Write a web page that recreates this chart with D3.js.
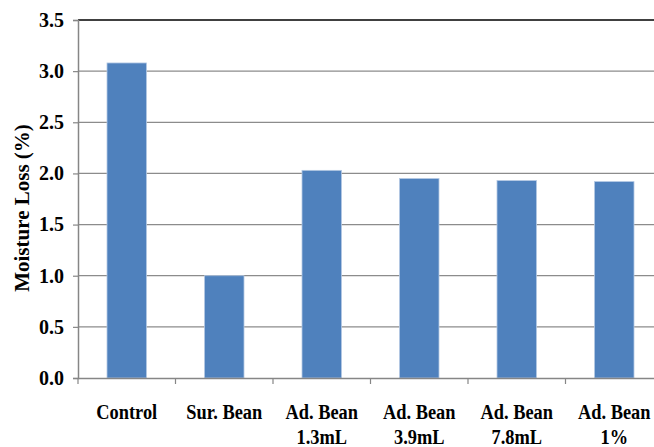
<!DOCTYPE html>
<html>
<head>
<meta charset="utf-8">
<script src="https://cdn.jsdelivr.net/npm/d3@7"></script>
<style>
  html, body { margin: 0; padding: 0; background: #fff; }
  svg { display: block; }
  text { font-family: "Liberation Serif", "Times New Roman", serif; font-weight: bold; fill: #000; }
</style>
</head>
<body>
<svg id="chart" width="654" height="447"></svg>
<script>
const categories = ["Control", "Sur. Bean", "Ad. Bean|1.3mL", "Ad. Bean|3.9mL", "Ad. Bean|7.8mL", "Ad. Bean|1%"];
const moistureLoss = [3.08, 1.0, 2.03, 1.95, 1.93, 1.92];
const yTicks = [0, 0.5, 1.0, 1.5, 2.0, 2.5, 3.0, 3.5];
const yTitle = "Moisture Loss (%)";

const svg = d3.select("#chart");
const margin = { left: 78, top: 20, bottom: 378 };
const plotRight = 663;

const x = d3.scaleBand().domain(categories).range([margin.left, plotRight]).paddingInner(0.595).paddingOuter(0.2975);
const xb = d3.scaleBand().domain(categories).range([margin.left, plotRight]).padding(0);
const y = d3.scaleLinear().domain([0, 3.5]).range([margin.bottom, margin.top]);

// gridlines
svg.append("g").selectAll("line").data(yTicks.filter(t => t > 0 && t < 3.5)).join("line")
  .attr("x1", margin.left).attr("x2", 654)
  .attr("y1", d => y(d)).attr("y2", d => y(d))
  .attr("stroke", "#8c8c8c").attr("stroke-width", 1.2);

// top line
svg.append("line").attr("x1", margin.left).attr("x2", 654)
  .attr("y1", y(3.5)).attr("y2", y(3.5)).attr("stroke", "#000").attr("stroke-width", 1.6);

// bars
svg.append("g").selectAll("rect").data(categories).join("rect")
  .attr("x", d => x(d)).attr("width", x.bandwidth())
  .attr("y", (d, i) => y(moistureLoss[i]))
  .attr("height", (d, i) => y(0) - y(moistureLoss[i]))
  .attr("fill", "#4f81bd").attr("stroke", "#b3c8e3").attr("stroke-width", 0.8);

// y axis
const yAxis = d3.axisLeft(y).tickValues(yTicks).tickFormat(d3.format(".1f")).tickSize(5).tickPadding(9);
const yg = svg.append("g").attr("transform", `translate(${margin.left},0)`).call(yAxis);
yg.select(".domain").attr("stroke", "#868686").attr("stroke-width", 1.5);
yg.selectAll(".tick line").attr("stroke", "#868686").attr("stroke-width", 1.2);
yg.selectAll(".tick text").attr("font-size", 20).attr("font-family", "Liberation Serif").attr("font-weight", "bold").attr("fill", "#000");

// x axis
const xAxis = d3.axisBottom(xb).tickSize(0).tickFormat("");
const xg = svg.append("g").attr("transform", `translate(0,${margin.bottom})`).call(xAxis);
xg.select(".domain").attr("stroke", "#868686").attr("stroke-width", 1.5);
xg.selectAll(".tick").remove();
// boundary ticks
const bounds = categories.map(c => xb(c)).concat([plotRight]);
xg.append("g").selectAll("line").data(bounds).join("line")
  .attr("x1", d => d).attr("x2", d => d).attr("y1", 0).attr("y2", 6)
  .attr("stroke", "#868686").attr("stroke-width", 1.2);

// x labels
const lbl = svg.append("g").selectAll("text").data(categories).join("text")
  .attr("text-anchor", "middle").attr("font-size", 20)
  .attr("transform", d => `translate(${xb(d) + xb.bandwidth() / 2},0) scale(0.92,1)`);
lbl.each(function(d) {
  const parts = d.split("|");
  const t = d3.select(this);
  parts.forEach((p, i) => t.append("tspan").attr("x", 0).attr("y", 419 + i * 25).text(p));
});

// y title
svg.append("text").attr("text-anchor", "middle").attr("font-size", 21)
  .attr("transform", `translate(29,${(margin.top + margin.bottom) / 2 + 9}) rotate(-90)`)
  .text(yTitle);
</script>
</body>
</html>
